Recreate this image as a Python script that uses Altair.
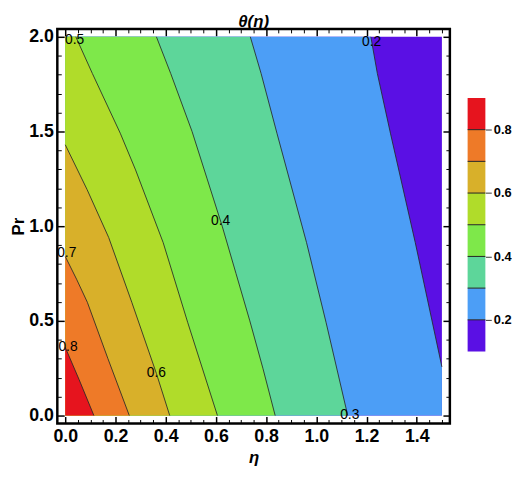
import altair as alt
import pandas as pd

FONT = "Liberation Sans"

# ---- data ranges ----
ETA_RANGE = [0.0, 1.5]
PR_RANGE = [0.0, 2.0]

# ---- contour lines (eta, Pr) ----
C02_ETA = [1.217, 1.243, 1.295, 1.394, 1.5]
C02_PR = [2.0, 1.806, 1.491, 0.913, 0.257]
C03_ETA = [0.737, 0.780, 0.843, 0.961, 1.039, 1.125]
C03_PR = [2.0, 1.806, 1.491, 0.913, 0.49, 0.0]
C04_ETA = [0.363, 0.420, 0.505, 0.565, 0.625, 0.680, 0.735, 0.787, 0.836]
C04_PR = [2.0, 1.806, 1.5, 1.25, 1.0, 0.75, 0.5, 0.25, 0.0]
C05_ETA = [0.042, 0.108, 0.219, 0.280, 0.390, 0.488, 0.606]
C05_PR = [2.0, 1.806, 1.491, 1.297, 0.913, 0.49, 0.0]
C06_ETA = [0.0, 0.087, 0.173, 0.265, 0.363, 0.416]
C06_PR = [1.43, 1.193, 0.94, 0.598, 0.222, 0.0]
C07_ETA = [0.0, 0.045, 0.088, 0.17, 0.255]
C07_PR = [0.84, 0.72, 0.598, 0.30, 0.0]
C08_ETA = [0.0, 0.055, 0.114]
C08_PR = [0.36, 0.19, 0.0]

LEVELS = [0.2, 0.3, 0.4, 0.5, 0.6, 0.7, 0.8]
CONTOURS = [(C02_ETA, C02_PR), (C03_ETA, C03_PR), (C04_ETA, C04_PR), (C05_ETA, C05_PR),
            (C06_ETA, C06_PR), (C07_ETA, C07_PR), (C08_ETA, C08_PR)]

# ---- colour bands ----
BAND_LO = [0.1, 0.2, 0.3, 0.4, 0.5, 0.6, 0.7, 0.8]
BAND_HI = [0.2, 0.3, 0.4, 0.5, 0.6, 0.7, 0.8, 0.9]
BAND_COLORS = ["#5A10E4", "#4C9EF6", "#5DD69A", "#7EE84A", "#B0DC2A", "#D8B02A", "#EE7A28", "#E6141E"]
CB_TICKS = [0.2, 0.4, 0.6, 0.8]

# ---- contour labels ----
LABEL_TEXT = ["0.5", "0.2", "0.4", "0.7", "0.8", "0.6", "0.3"]
LABEL_ETA = [0.037, 1.220, 0.619, 0.006, 0.011, 0.363, 1.133]
LABEL_PR = [1.981, 1.972, 1.027, 0.857, 0.362, 0.222, 0.004]

# ---- axis ticks ----
X_MAJOR = [0.0, 0.2, 0.4, 0.6, 0.8, 1.0, 1.2, 1.4]
X_MINOR = [0.05, 0.1, 0.15, 0.25, 0.3, 0.35, 0.45, 0.5, 0.55, 0.65, 0.7, 0.75,
           0.85, 0.9, 0.95, 1.05, 1.1, 1.15, 1.25, 1.3, 1.35, 1.45, 1.5]
Y_MAJOR = [0.0, 0.5, 1.0, 1.5, 2.0]
Y_MINOR = [0.1, 0.2, 0.3, 0.4, 0.6, 0.7, 0.8, 0.9, 1.1, 1.2, 1.3, 1.4, 1.6, 1.7, 1.8, 1.9]

W, H = 398, 400
XD = [-0.0317, 1.5317]
YD = [-0.0417, 2.0417]
CB_DOM = [-0.127, 1.1179]


def xs():
    return alt.Scale(domain=XD, nice=False, zero=False)


def ys():
    return alt.Scale(domain=YD, nice=False, zero=False)


def axis(orient, values, size, labels, **kw):
    base = dict(orient=orient, values=values, offset=-size, tickSize=size, tickColor="black",
                tickWidth=1.5 if size > 5 else 1, domain=False, grid=False, labels=labels)
    base.update(kw)
    return alt.Axis(**base)


LAB = dict(labelFont=FONT, labelFontSize=18, labelFontWeight="bold", labelColor="black", format=".1f")
XAX = axis("bottom", X_MAJOR, 7, True, labelPadding=4, title="η", titleFont=FONT, titleFontSize=17,
           titleFontStyle="italic", titleFontWeight="bold", titleColor="black", titlePadding=5, **LAB)
YAX = axis("left", Y_MAJOR, 7, True, labelPadding=4, title="Pr", titleFont=FONT, titleFontSize=17,
           titleFontWeight="bold", titleColor="black", titlePadding=1, **LAB)

# background (theta < 0.2)
bg_df = pd.DataFrame({"e0": [ETA_RANGE[0]], "e1": [ETA_RANGE[1]], "p0": [PR_RANGE[0]], "p1": [PR_RANGE[1]]})
bg = alt.Chart(bg_df).mark_rect(color=BAND_COLORS[0]).encode(
    x=alt.X("e0:Q", scale=xs(), axis=XAX), x2="e1:Q",
    y=alt.Y("p0:Q", scale=ys(), axis=YAX), y2="p1:Q")

layers = [bg]
line_rows = []
for i, (lev, (ce, cp)) in enumerate(zip(LEVELS, CONTOURS)):
    e = list(ce)
    p = list(cp)
    for a, b in zip(e, p):
        line_rows.append({"eta": a, "pr": b, "level": str(lev)})
    if p[-1] > 0:  # contour leaves through the right edge: close down to the bottom
        e.append(ETA_RANGE[1])
        p.append(PR_RANGE[0])
    df = pd.DataFrame({"eta": e, "pr": p, "zero": [0.0] * len(e)}).sort_values("pr")
    layers.append(alt.Chart(df).mark_area(orient="horizontal", color=BAND_COLORS[i + 1]).encode(
        x=alt.X("eta:Q", scale=xs(), axis=XAX), x2="zero:Q",
        y=alt.Y("pr:Q", scale=ys(), axis=YAX)))

lines = alt.Chart(pd.DataFrame(line_rows)).mark_line(color="#262626", strokeWidth=1, opacity=0.85).encode(
    x=alt.X("eta:Q", scale=xs(), axis=XAX), y=alt.Y("pr:Q", scale=ys(), axis=YAX),
    detail="level:N", order="pr:Q")
layers.append(lines)

lab_df = pd.DataFrame({"eta": LABEL_ETA, "pr": LABEL_PR, "txt": LABEL_TEXT})
labels = alt.Chart(lab_df).mark_text(font=FONT, fontSize=14, color="black").encode(
    x=alt.X("eta:Q", scale=xs(), axis=XAX), y=alt.Y("pr:Q", scale=ys(), axis=YAX), text="txt:N")
layers.append(labels)

content = alt.layer(*layers)

dummy = pd.DataFrame({"eta": [0.0], "pr": [0.0]})


def axis_layer(xa, ya):
    return alt.Chart(dummy).mark_point(opacity=0).encode(
        x=alt.X("eta:Q", scale=xs(), axis=xa), y=alt.Y("pr:Q", scale=ys(), axis=ya))


ax_minor_bl = axis_layer(axis("bottom", X_MINOR, 4, False, title=None), axis("left", Y_MINOR, 4, False, title=None))
ax_major_tr = axis_layer(axis("top", X_MAJOR, 7, False, title=None), axis("right", Y_MAJOR, 7, False, title=None))
ax_minor_tr = axis_layer(axis("top", X_MINOR, 4, False, title=None), axis("right", Y_MINOR, 4, False, title=None))

main = alt.layer(content, ax_minor_bl, ax_major_tr, ax_minor_tr).resolve_scale(
    x="independent", y="independent").properties(
    width=W, height=H,
    title=alt.TitleParams("θ(η)", font=FONT, fontSize=17, fontStyle="italic", fontWeight="bold",
                          color="black", anchor="middle", offset=-3),
    view=alt.ViewBackground(stroke="black", strokeWidth=2.5))

# ---- colour bar ----
cb_df = pd.DataFrame({"lo": BAND_LO, "hi": BAND_HI, "band": [str(v) for v in BAND_LO]})
CBAX = alt.Axis(orient="right", values=CB_TICKS, format=".1f", tickSize=6, tickColor="#333333", tickWidth=1,
                domain=False, grid=False, labelFont=FONT, labelFontSize=13, labelFontWeight="bold",
                labelColor="black", labelPadding=2, title=None)
cb_scale = alt.Scale(domain=CB_DOM, nice=False, zero=False)
cb_rects = alt.Chart(cb_df).mark_rect().encode(
    y=alt.Y("lo:Q", scale=cb_scale, axis=CBAX), y2="hi:Q",
    color=alt.Color("band:N", scale=alt.Scale(domain=[str(v) for v in BAND_LO], range=BAND_COLORS), legend=None))
cb_rules = alt.Chart(pd.DataFrame({"b": BAND_HI[:-1]})).mark_rule(color="#222222", strokeWidth=1).encode(
    y=alt.Y("b:Q", scale=cb_scale, axis=CBAX))
cbar = alt.layer(cb_rects, cb_rules).properties(width=18, height=H,
                                                view=alt.ViewBackground(strokeOpacity=0))

chart = alt.hconcat(main, cbar, spacing=18, bounds="flush").properties(padding=0)

chart.save("out.html", embed_options={"renderer": "svg", "actions": False})
